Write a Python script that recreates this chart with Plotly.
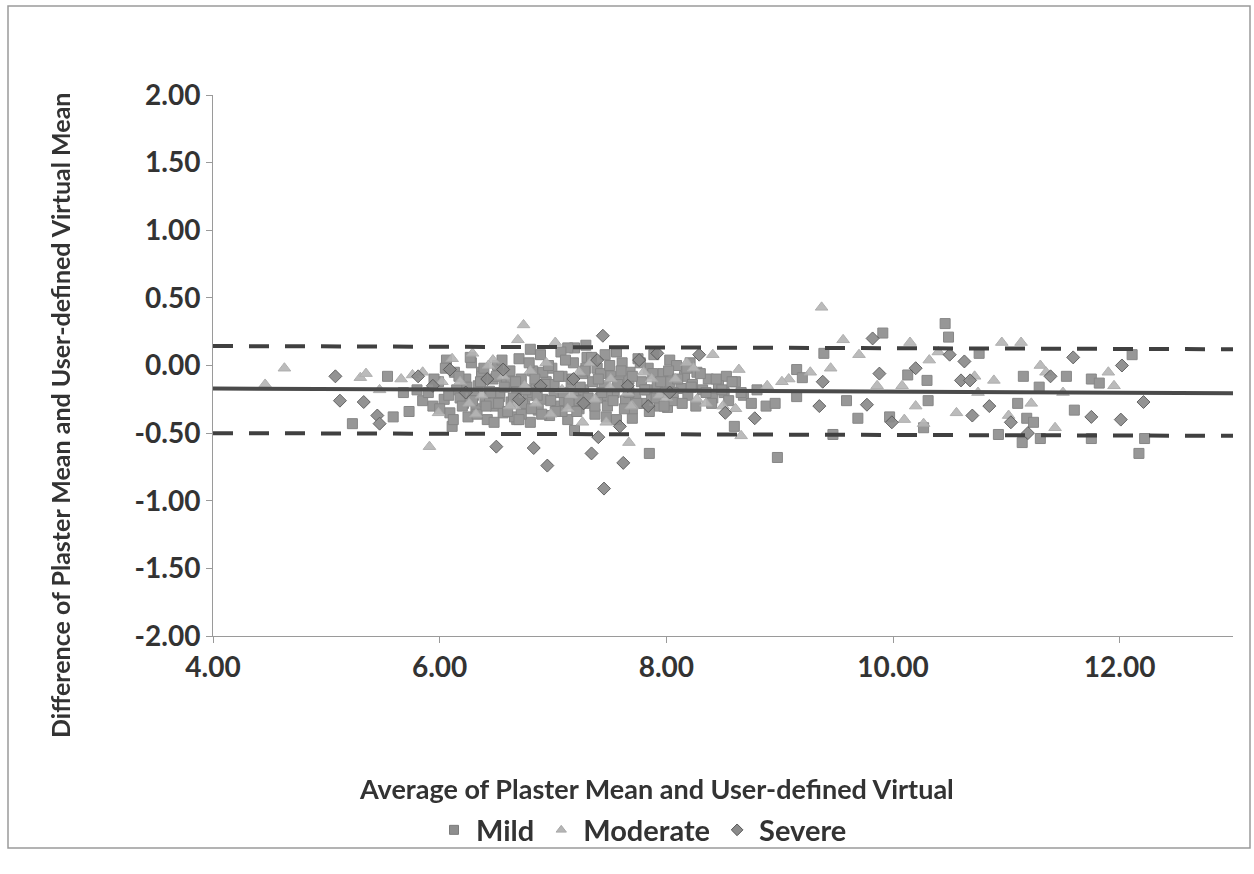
import plotly.graph_objects as go

# ---------------- data ----------------
mild_x = [5.23, 5.54, 5.59, 5.73, 5.68, 5.80, 5.85, 6.06, 6.11, 7.29, 7.19, 7.56, 6.68, 7.19, 7.70,
          7.85, 8.03, 8.21, 8.53, 8.01, 8.60, 8.88, 8.96, 8.98, 9.15, 9.20, 9.15, 9.39, 9.47, 9.59,
          9.69, 9.91, 9.97, 10.13, 10.46, 10.49, 10.76, 10.30, 10.31, 10.27, 11.15, 11.29, 11.53,
          11.75, 11.82, 11.10, 11.18, 11.24, 11.60, 10.93, 11.14, 11.30, 11.75, 12.22, 12.17, 12.11,
          6.80, 7.13,
          5.90, 5.94, 5.99, 6.04, 6.09, 6.13, 6.15, 6.21, 6.23, 6.25, 6.28, 6.30, 6.32, 6.34, 6.37,
          6.40, 6.42, 6.44, 6.47, 6.49, 6.51, 6.53, 6.56, 6.59, 6.61, 6.63, 6.66, 6.68, 6.70, 6.72,
          6.75, 6.78, 6.80, 6.82, 6.85, 6.87, 6.89, 6.91, 6.94, 6.97, 6.99, 7.01, 7.04, 7.07, 7.08,
          7.10, 7.13, 7.16, 7.18, 7.20, 7.23, 7.26, 7.27, 7.30, 7.32, 7.35, 7.37, 7.39, 7.42, 7.45,
          7.46, 7.48, 7.51, 7.54, 7.56, 7.58, 7.61, 7.64, 7.66, 7.68, 7.70, 7.73, 7.75, 7.78, 7.80,
          7.83, 7.84, 7.87, 7.89, 7.92, 7.94, 7.97, 7.99, 8.03, 8.06, 8.09, 8.13, 8.16, 8.19, 8.23,
          8.27, 8.32, 8.37, 8.41, 8.46, 8.51, 8.61, 8.68, 8.75, 8.80,
          6.18, 6.37, 6.53, 6.72, 6.91, 7.08, 7.29, 7.48, 7.67, 6.44, 6.63, 6.82, 7.01, 7.23, 7.42,
          5.95, 6.00, 6.05, 6.08, 6.12, 6.17, 6.20, 6.24, 6.27, 6.29, 6.33, 6.36, 6.39, 6.41, 6.45,
          6.48, 6.50, 6.52, 6.55, 6.57, 6.60, 6.62, 6.65, 6.67, 6.70, 6.73, 6.76, 6.79, 6.81, 6.84,
          6.86, 6.90, 6.93, 6.96, 6.98, 7.02, 7.05, 7.09, 7.11, 7.14, 7.17, 7.21, 7.24, 7.28, 7.31,
          7.34, 7.37, 7.40, 7.43, 7.47, 7.50, 7.53, 7.57, 7.60, 7.63, 7.67, 7.70, 7.74, 7.77, 7.81,
          7.85, 7.88, 7.91, 7.95, 7.98, 8.02, 8.06, 8.10, 8.14, 8.18, 8.22, 8.26, 8.30, 8.35, 8.40,
          8.44, 8.49, 8.55, 8.58, 8.66]
mild_y = [-0.43, -0.08, -0.38, -0.34, -0.20, -0.18, -0.26, 0.04, -0.45, 0.15, 0.13, 0.10, -0.40, -0.48, -0.39,
          -0.65, 0.04, 0.02, -0.08, -0.31, -0.45, -0.30, -0.28, -0.68, -0.03, -0.09, -0.23, 0.09, -0.51, -0.26,
          -0.39, 0.24, -0.38, -0.07, 0.31, 0.21, 0.09, -0.11, -0.26, -0.46, -0.08, -0.16, -0.08,
          -0.10, -0.13, -0.28, -0.39, -0.42, -0.33, -0.51, -0.57, -0.54, -0.54, -0.54, -0.65, 0.08,
          0.12, 0.13,
          -0.20, -0.30, -0.12, -0.25, -0.35, -0.05, -0.18, -0.28, -0.10, -0.38, 0.02, -0.22, -0.32, -0.15, -0.05,
          -0.27, -0.40, -0.19, -0.10, -0.30, 0.00, -0.23, -0.35, -0.14, -0.06, -0.27, -0.38, -0.18, 0.05, -0.10,
          -0.30, -0.22, -0.42, -0.04, -0.16, -0.33, 0.08, -0.25, -0.12, -0.37, -0.02, -0.20, -0.30, 0.10, -0.08,
          -0.26, -0.40, -0.15, 0.02, -0.22, -0.32, -0.06, -0.18, 0.06, -0.28, -0.12, -0.36, -0.02, -0.24, -0.15,
          0.08, -0.30, -0.08, -0.20, -0.40, -0.12, 0.02, -0.26, -0.16, -0.05, -0.32, -0.22, 0.05, -0.12, -0.28,
          -0.18, -0.02, -0.24, 0.08, -0.14, -0.30, -0.06, -0.20, -0.12, -0.26, 0.00, -0.17, -0.08, -0.22, -0.14,
          -0.05, -0.18, -0.10, -0.24, -0.15, -0.20, -0.12, -0.22, -0.28, -0.18,
          -0.24, -0.08, -0.20, -0.36, -0.05, -0.34, -0.02, -0.22, -0.10, -0.28, -0.12, -0.20, -0.14, -0.26, -0.06,
          -0.10, -0.32, -0.02, -0.22, -0.40, -0.08, -0.30, -0.16, 0.06, -0.26, -0.36, -0.12, -0.02, -0.30, -0.20,
          -0.42, -0.08, -0.28, 0.04, -0.16, -0.34, -0.04, -0.24, -0.12, -0.40, -0.28, -0.18, 0.02, -0.32, -0.10,
          -0.22, -0.36, -0.14, 0.00, -0.26, -0.34, -0.08, -0.20, 0.04, -0.28, -0.10, -0.34, -0.16, -0.04, -0.24,
          0.06, -0.30, -0.10, -0.20, -0.38, 0.00, -0.26, -0.14, -0.04, -0.32, -0.20, -0.08, -0.28, 0.02, -0.18,
          -0.34, -0.06, -0.24, -0.12, -0.30, -0.04, -0.20, -0.10, -0.28, -0.02, -0.16, -0.30, -0.06, -0.20, -0.28,
          -0.10, -0.18, -0.26, -0.12, -0.20]

moderate_x = [4.46, 4.63, 5.30, 5.35, 5.76, 5.91, 6.29, 6.11, 6.47, 6.74, 6.69, 7.02, 7.26, 7.47, 7.67,
              8.41, 8.64, 8.35, 8.61, 8.66, 9.37, 9.56, 10.15, 9.86, 10.08, 10.10, 10.32, 10.96, 11.13,
              11.30, 10.72, 10.89, 10.56, 11.02, 11.43, 10.27, 11.22,
              6.18, 6.37, 6.56, 6.75, 6.85, 6.94, 7.08, 7.23, 7.37, 7.51, 7.66, 7.80, 7.94, 8.08, 8.27,
              5.47, 5.66, 5.85, 5.99, 6.32, 6.66, 7.13, 7.70, 8.18, 8.89, 9.08, 9.27, 9.70, 10.20,
              10.75, 11.50, 11.90,
              6.02, 6.26, 6.43, 6.62, 6.80, 6.98, 7.16, 7.33, 7.50, 7.69, 7.87, 8.00, 8.24, 8.50,
              9.02, 9.45, 10.40, 11.35, 11.95]
moderate_y = [-0.14, -0.02, -0.09, -0.06, -0.07, -0.60, 0.09, 0.05, 0.04, 0.30, 0.19, 0.17, -0.42, -0.42, -0.57,
              0.08, -0.03, -0.28, -0.32, -0.52, 0.43, 0.19, 0.17, -0.15, -0.15, -0.40, 0.04, 0.17, 0.17,
              0.00, -0.08, -0.11, -0.35, -0.37, -0.46, -0.43, -0.28,
              -0.12, -0.22, -0.08, -0.15, -0.28, 0.02, -0.18, -0.05, -0.25, -0.10, -0.20, -0.05, -0.22, -0.10, -0.25,
              -0.18, -0.10, -0.05, -0.35, -0.36, -0.30, -0.32, -0.30, 0.02, -0.15, -0.10, -0.05, 0.08, -0.30,
              -0.20, -0.20, -0.05,
              -0.12, -0.28, 0.00, -0.30, -0.04, -0.36, -0.22, 0.02, -0.16, -0.30, -0.10, -0.24, -0.02, -0.30,
              -0.12, -0.02, 0.10, -0.05, -0.15]

severe_x = [5.08, 5.12, 5.33, 5.45, 5.47, 5.81, 6.09, 6.56, 7.44, 7.92, 7.39, 7.76, 6.50, 6.83, 6.95,
            7.34, 7.62, 7.45, 7.59, 7.40, 8.29, 9.38, 9.88, 10.20, 9.82, 9.77, 9.35, 8.52, 8.78, 9.99,
            10.50, 10.63, 11.59, 12.02, 11.39, 12.21, 10.85, 10.70, 11.04, 11.75, 12.01, 11.19, 10.60,
            10.68, 6.23, 6.42, 6.70, 6.89, 7.18, 7.27, 7.66, 7.84, 8.03, 5.94]
severe_y = [-0.08, -0.26, -0.27, -0.37, -0.43, -0.08, -0.03, -0.03, 0.22, 0.09, 0.04, 0.04, -0.60, -0.61, -0.74,
            -0.65, -0.72, -0.91, -0.45, -0.53, 0.08, -0.12, -0.06, -0.02, 0.20, -0.29, -0.30, -0.35, -0.39, -0.42,
            0.08, 0.03, 0.06, 0.00, -0.08, -0.27, -0.30, -0.37, -0.42, -0.38, -0.40, -0.50, -0.11,
            -0.11, -0.20, -0.10, -0.25, -0.15, -0.10, -0.28, -0.15, -0.30, -0.20, -0.15]

line_x = [4.0, 13.0]
mean_y = [-0.17, -0.205]
upper_y = [0.144, 0.12]
lower_y = [-0.50, -0.52]

series_names = ["Mild", "Moderate", "Severe"]
x_ticks = [4, 6, 8, 10, 12]
x_tick_text = ["4.00", "6.00", "8.00", "10.00", "12.00"]
y_ticks = [2.0, 1.5, 1.0, 0.5, 0.0, -0.5, -1.0, -1.5, -2.0]
y_tick_text = ["2.00", "1.50", "1.00", "0.50", "0.00", "-0.50", "-1.00", "-1.50", "-2.00"]

# ---------------- figure ----------------
FONT = "Lato"
TXT = "#333333"
styles = [
    dict(symbol="square", color="#8e8e8e", line=dict(color="#7c7c7c", width=1)),
    dict(symbol="triangle-up", color="#b5b5b5", line=dict(color="#a8a8a8", width=1)),
    dict(symbol="diamond", color="#8a8a8a", line=dict(color="#555555", width=1)),
]
sizes = [10, 11, 10]

fig = go.Figure()
for (xs, ys), st, sz in zip([(mild_x, mild_y), (moderate_x, moderate_y), (severe_x, severe_y)], styles, sizes):
    fig.add_trace(go.Scatter(x=xs, y=ys, mode="markers", showlegend=False,
                             marker=dict(size=sz, **st), opacity=0.92))
fig.add_trace(go.Scatter(x=line_x, y=mean_y, mode="lines", showlegend=False,
                         line=dict(color="#4a4a4a", width=4)))
for yy in (upper_y, lower_y):
    fig.add_trace(go.Scatter(x=line_x, y=yy, mode="lines", showlegend=False,
                             line=dict(color="#404040", width=4, dash="20px,16px")))
# legend-only entries with small markers
for name, st in zip(series_names, styles):
    fig.add_trace(go.Scatter(x=[None], y=[None], mode="markers", name=name,
                             marker=dict(size=9, **st)))

L, R, T, B = 213, 1233, 95, 636
PW, PH = R - L, B - T

def px(xp):
    return (xp - L) / PW

def py(yp):
    return (B - yp) / PH

fig.update_layout(
    width=1254, height=874,
    margin=dict(l=L, r=1254 - R, t=T, b=874 - B),
    paper_bgcolor="white", plot_bgcolor="white",
    font=dict(family=FONT, color=TXT, weight="bold"),
    showlegend=True,
    legend=dict(orientation="h", x=px(642), y=py(830), xanchor="center", yanchor="middle",
                font=dict(family=FONT, size=29, color=TXT, weight="bold"),
                itemwidth=34, bgcolor="rgba(0,0,0,0)"),
    xaxis=dict(range=[4, 13], tickvals=x_ticks, ticktext=x_tick_text,
               showgrid=False, zeroline=False, showline=True, linecolor="#9a9a9a", linewidth=1,
               ticks="outside", ticklen=6, tickcolor="#9a9a9a",
               tickfont=dict(family=FONT, size=28, color=TXT, weight="bold"),
               ticklabelstandoff=0),
    yaxis=dict(range=[-2, 2], tickvals=y_ticks, ticktext=y_tick_text,
               showgrid=False, zeroline=False, showline=True, linecolor="#9a9a9a", linewidth=1,
               ticks="outside", ticklen=6, tickcolor="#9a9a9a",
               tickfont=dict(family=FONT, size=28, color=TXT, weight="bold"),
               ticklabelstandoff=0),
    shapes=[dict(type="rect", xref="paper", yref="paper",
                 x0=px(8), x1=px(1250), y0=py(848), y1=py(6),
                 line=dict(color="#9a9a9a", width=1.5), fillcolor="rgba(0,0,0,0)", layer="below")],
    annotations=[
        dict(text="Average of Plaster Mean and User-defined Virtual", xref="paper", yref="paper",
             x=px(656), y=py(788), xanchor="center", yanchor="middle", showarrow=False,
             font=dict(family=FONT, size=27, color=TXT, weight="bold")),
        dict(text="Difference of Plaster Mean and User-defined Virtual Mean", xref="paper", yref="paper",
             x=px(60), y=py(416), xanchor="center", yanchor="middle", showarrow=False, textangle=-90,
             font=dict(family=FONT, size=25, color=TXT, weight="bold")),
    ],
)

fig.write_html("out.html")
